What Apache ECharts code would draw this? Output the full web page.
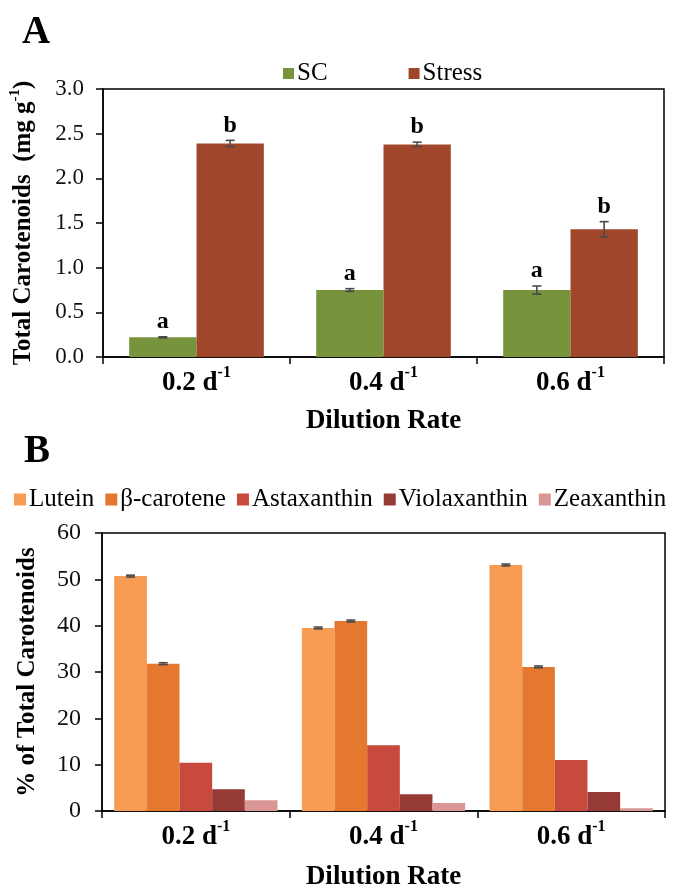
<!DOCTYPE html>
<html>
<head>
<meta charset="utf-8">
<script src="https://cdn.jsdelivr.net/npm/echarts@6/dist/echarts.min.js"></script>
<style>
html,body{margin:0;padding:0;background:#fff;}
#chart{width:678px;height:892px;}
</style>
</head>
<body>
<div id="chart"></div>
<script>
// ---------- Data ----------
const categories = ['0.2', '0.4', '0.6'];

// Panel A: total carotenoids (mg g-1)
const scValues = [0.22, 0.75, 0.75];
const scErrors = [0.006, 0.015, 0.045];
const scLetters = ['a', 'a', 'a'];
const stressValues = [2.39, 2.38, 1.43];
const stressErrors = [0.035, 0.025, 0.085];
const stressLetters = ['b', 'b', 'b'];

// Panel B: % of total carotenoids
const pigmentNames = ['Lutein', 'β-carotene', 'Astaxanthin', 'Violaxanthin', 'Zeaxanthin'];
const luteinValues = [50.7, 39.5, 53.1];
const luteinErrors = [0.2, 0.2, 0.2];
const betaCaroteneValues = [31.8, 41.0, 31.1];
const betaCaroteneErrors = [0.2, 0.2, 0.2];
const astaxanthinValues = [10.4, 14.2, 11.0];
const violaxanthinValues = [4.7, 3.6, 4.1];
const zeaxanthinValues = [2.3, 1.7, 0.6];

const yTicksA = { min: 0, max: 3, interval: 0.5 };
const yTicksB = { min: 0, max: 60, interval: 10 };

// ---------- Styles ----------
const SERIF = '"Liberation Serif", "Times New Roman", serif';
const colorsA = ['#77933C', '#A0462B'];
const colorsB = ['#F79C52', '#E4782F', '#C84A3C', '#963A36', '#D99694'];
const gapA = 0.28, gapB = 0.13;

const chart = echarts.init(document.getElementById('chart'), null, { renderer: 'canvas' });

function catLabel(v) { return '{m|' + v + ' d}{s|-1}'; }
const catRich = {
  m: { fontFamily: SERIF, fontWeight: 'bold', fontSize: 27, color: '#000', lineHeight: 32, verticalAlign: 'bottom' },
  s: { fontFamily: SERIF, fontWeight: 'bold', fontSize: 16, color: '#000', lineHeight: 18, verticalAlign: 'top' }
};

function makeErrorSeries(xi, yi, n, gap, seriesList) {
  const data = [];
  seriesList.forEach((s, si) => {
    s.values.forEach((v, ci) => {
      data.push([ci, v, s.errors ? s.errors[ci] : 0, si]);
    });
  });
  return {
    type: 'custom',
    xAxisIndex: xi, yAxisIndex: yi,
    silent: true, z: 10,
    encode: { x: 0, y: 1 },
    data: data,
    renderItem: function (params, api) {
      const ci = api.value(0), v = api.value(1), e = api.value(2), si = api.value(3);
      const band = api.size([1, 0])[0];
      const barW = band * (1 - gap) / n;
      const c = api.coord([ci, v]);
      const x = c[0] + (si - (n - 1) / 2) * barW;
      const yTop = api.coord([ci, v + e])[1];
      const yBot = api.coord([ci, v - e])[1];
      const children = [];
      const st = { stroke: '#4a4a4a', lineWidth: 1.6 };
      if (e > 0) {
        children.push({ type: 'line', shape: { x1: x, y1: yTop, x2: x, y2: yBot }, style: st });
        children.push({ type: 'line', shape: { x1: x - 4.5, y1: yTop, x2: x + 4.5, y2: yTop }, style: st });
        children.push({ type: 'line', shape: { x1: x - 4.5, y1: yBot, x2: x + 4.5, y2: yBot }, style: st });
      }
      const letters = seriesList[si].letters;
      if (letters) {
        children.push({
          type: 'text',
          style: {
            text: letters[ci], x: x, y: yTop - 3,
            align: 'center', verticalAlign: 'bottom',
            fontFamily: SERIF, fontWeight: 'bold', fontSize: 24, fill: '#000'
          }
        });
      }
      return { type: 'group', children: children };
    }
  };
}

const option = {
  animation: false,
  backgroundColor: '#fff',
  graphic: [
    { type: 'text', left: 22, top: 13, style: { text: 'A', fontFamily: SERIF, fontWeight: 'bold', fontSize: 39, fill: '#000' } },
    { type: 'text', left: 24, top: 432, style: { text: 'B', fontFamily: SERIF, fontWeight: 'bold', fontSize: 39, fill: '#000' } }
  ],
  legend: [
    {
      data: ['SC', 'Stress'], left: 278, top: 56,
      itemWidth: 11, itemHeight: 11, itemGap: 81,
      icon: 'rect',
      textStyle: { fontFamily: SERIF, fontSize: 25, color: '#000', padding: [0, 0, 0, -2] }
    },
    {
      data: pigmentNames, left: 14, top: 487, width: 676, padding: 0,
      itemWidth: 12, itemHeight: 12, itemGap: 11,
      icon: 'rect',
      textStyle: { fontFamily: SERIF, fontSize: 25, color: '#000', padding: [0, 0, 0, -2] }
    }
  ],
  grid: [
    { left: 102, right: 14, top: 89, height: 268, show: true, borderColor: '#000', borderWidth: 1.5, backgroundColor: 'transparent' },
    { left: 102, right: 13, top: 533, height: 281, show: true, borderColor: '#000', borderWidth: 1.5, backgroundColor: 'transparent' }
  ],
  xAxis: [
    {
      type: 'category', gridIndex: 0, data: categories,
      axisLine: { lineStyle: { color: '#000', width: 1.5 } },
      axisTick: { show: true, length: 7, lineStyle: { color: '#000', width: 1.5 } },
      axisLabel: { formatter: catLabel, rich: catRich, margin: 8 },
      name: 'Dilution Rate', nameLocation: 'middle', nameGap: 51,
      nameTextStyle: { fontFamily: SERIF, fontWeight: 'bold', fontSize: 27, color: '#000' }
    },
    {
      type: 'category', gridIndex: 1, data: categories,
      axisLine: { lineStyle: { color: '#000', width: 1.5 } },
      axisTick: { show: true, length: 7, lineStyle: { color: '#000', width: 1.5 } },
      axisLabel: { formatter: catLabel, rich: catRich, margin: 8 },
      name: 'Dilution Rate', nameLocation: 'middle', nameGap: 53,
      nameTextStyle: { fontFamily: SERIF, fontWeight: 'bold', fontSize: 27, color: '#000' }
    }
  ],
  yAxis: [
    {
      type: 'value', gridIndex: 0, min: yTicksA.min, max: yTicksA.max, interval: yTicksA.interval,
      axisLine: { show: true, lineStyle: { color: '#000', width: 1.5 } },
      axisTick: { show: true, length: 7, lineStyle: { color: '#000', width: 1.5 } },
      splitLine: { show: false },
      axisLabel: { formatter: v => v.toFixed(1), fontFamily: SERIF, fontSize: 23, color: '#111', margin: 19 },
      name: '{m|Total Carotenoids  (mg g}{s|-1}{m|)}', nameLocation: 'middle', nameGap: 67, nameRotate: 90,
      nameTextStyle: {
        rich: {
          m: { fontFamily: SERIF, fontWeight: 'bold', fontSize: 25, color: '#000', lineHeight: 28, verticalAlign: 'bottom' },
          s: { fontFamily: SERIF, fontWeight: 'bold', fontSize: 15, color: '#000', lineHeight: 16, verticalAlign: 'top' }
        }
      }
    },
    {
      type: 'value', gridIndex: 1, min: yTicksB.min, max: yTicksB.max, interval: yTicksB.interval,
      axisLine: { show: true, lineStyle: { color: '#000', width: 1.5 } },
      axisTick: { show: true, length: 7, lineStyle: { color: '#000', width: 1.5 } },
      splitLine: { show: false },
      axisLabel: { fontFamily: SERIF, fontSize: 24, color: '#111', margin: 21 },
      name: '% of Total Carotenoids', nameLocation: 'middle', nameGap: 62, nameRotate: 90,
      nameTextStyle: { fontFamily: SERIF, fontWeight: 'bold', fontSize: 25, color: '#000' }
    }
  ],
  series: [
    { name: 'SC', type: 'bar', xAxisIndex: 0, yAxisIndex: 0, data: scValues, itemStyle: { color: colorsA[0] }, barGap: '0%', barCategoryGap: (gapA * 100) + '%' },
    { name: 'Stress', type: 'bar', xAxisIndex: 0, yAxisIndex: 0, data: stressValues, itemStyle: { color: colorsA[1] }, barGap: '0%', barCategoryGap: (gapA * 100) + '%' },
    makeErrorSeries(0, 0, 2, gapA, [
      { values: scValues, errors: scErrors, letters: scLetters },
      { values: stressValues, errors: stressErrors, letters: stressLetters }
    ]),
    { name: 'Lutein', type: 'bar', xAxisIndex: 1, yAxisIndex: 1, data: luteinValues, itemStyle: { color: colorsB[0] }, barGap: '0%', barCategoryGap: (gapB * 100) + '%' },
    { name: 'β-carotene', type: 'bar', xAxisIndex: 1, yAxisIndex: 1, data: betaCaroteneValues, itemStyle: { color: colorsB[1] }, barGap: '0%', barCategoryGap: (gapB * 100) + '%' },
    { name: 'Astaxanthin', type: 'bar', xAxisIndex: 1, yAxisIndex: 1, data: astaxanthinValues, itemStyle: { color: colorsB[2] }, barGap: '0%', barCategoryGap: (gapB * 100) + '%' },
    { name: 'Violaxanthin', type: 'bar', xAxisIndex: 1, yAxisIndex: 1, data: violaxanthinValues, itemStyle: { color: colorsB[3] }, barGap: '0%', barCategoryGap: (gapB * 100) + '%' },
    { name: 'Zeaxanthin', type: 'bar', xAxisIndex: 1, yAxisIndex: 1, data: zeaxanthinValues, itemStyle: { color: colorsB[4] }, barGap: '0%', barCategoryGap: (gapB * 100) + '%' },
    makeErrorSeries(1, 1, 5, gapB, [
      { values: luteinValues, errors: luteinErrors },
      { values: betaCaroteneValues, errors: betaCaroteneErrors }
    ])
  ]
};
chart.setOption(option);
</script>
</body>
</html>
